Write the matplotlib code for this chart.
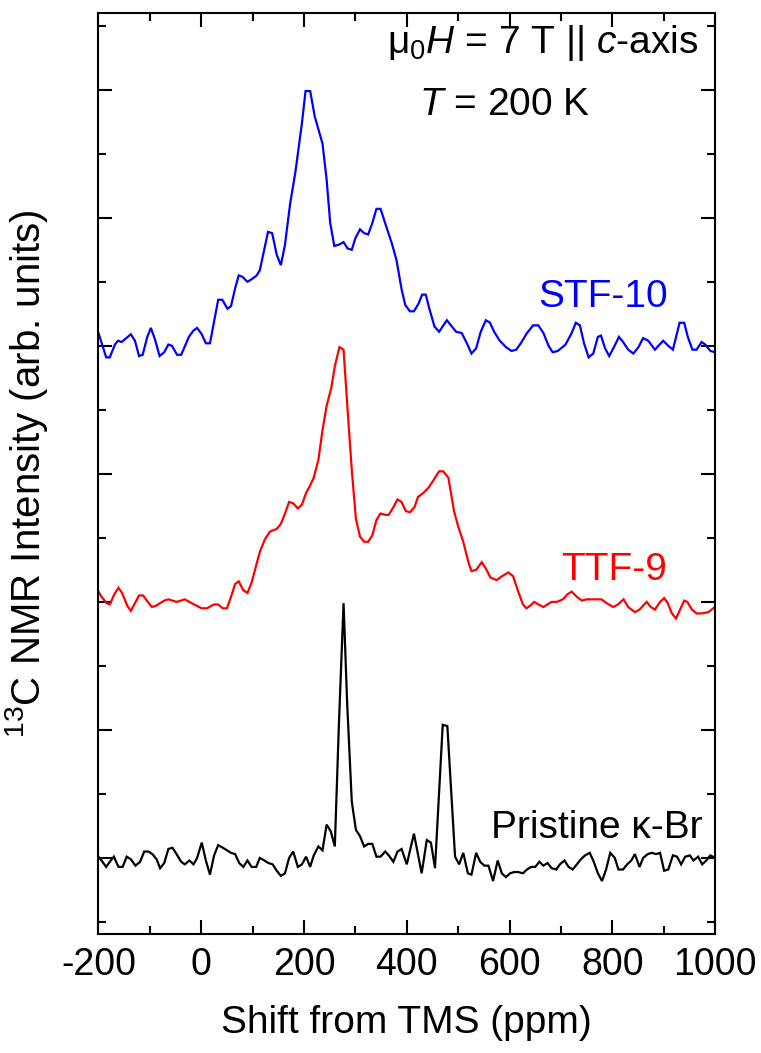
import matplotlib
matplotlib.use("Agg")
import matplotlib.pyplot as plt
from matplotlib.ticker import MultipleLocator

plt.rcParams["font.family"] = "Liberation Sans"
plt.rcParams["mathtext.fontset"] = "custom"
plt.rcParams["mathtext.rm"] = "Liberation Sans"
plt.rcParams["mathtext.it"] = "Liberation Sans:italic"
plt.rcParams["mathtext.bf"] = "Liberation Sans:bold"
plt.rcParams["axes.unicode_minus"] = False

# 13C NMR spectra (shift in ppm, offset intensity in arb. units)
stf10 = [(-200, 4.10), (-185, 3.91), (-178, 3.91), (-168, 4.01), (-162, 4.04), (-155, 4.03),
         (-137, 4.09), (-129, 4.04), (-121, 3.92), (-114, 3.93), (-105, 4.07), (-98, 4.14),
         (-90, 4.05), (-81, 3.92), (-72, 3.95), (-64, 4.01), (-57, 4.00), (-47, 3.93),
         (-39, 3.93), (-24, 4.07), (-15, 4.12), (-8, 4.14), (1, 4.09), (9, 4.02), (17, 4.02),
         (33, 4.36), (41, 4.36), (51, 4.29), (58, 4.31), (66, 4.45), (73, 4.55), (80, 4.54),
         (90, 4.50), (98, 4.52), (108, 4.55), (114, 4.59), (130, 4.89), (138, 4.88),
         (147, 4.71), (155, 4.63), (163, 4.79), (173, 5.11), (183, 5.35), (190, 5.56),
         (196, 5.74), (203, 5.99), (212, 5.99), (221, 5.79), (236, 5.58), (244, 5.30),
         (251, 4.96), (259, 4.78), (268, 4.79), (277, 4.81), (285, 4.76), (293, 4.75),
         (300, 4.84), (309, 4.91), (317, 4.88), (325, 4.87), (333, 4.96), (341, 5.07),
         (349, 5.07), (357, 4.97), (371, 4.80), (380, 4.67), (390, 4.44), (397, 4.32),
         (406, 4.27), (414, 4.27), (423, 4.33), (430, 4.40), (437, 4.40), (444, 4.29),
         (454, 4.15), (463, 4.11), (478, 4.20), (488, 4.15), (496, 4.11), (507, 4.10),
         (517, 4.02), (526, 3.94), (535, 3.98), (544, 4.11), (554, 4.20), (562, 4.18),
         (570, 4.11), (581, 4.04), (593, 3.99), (604, 3.96), (613, 3.97), (622, 4.02),
         (634, 4.10), (646, 4.16), (656, 4.16), (666, 4.10), (676, 4.00), (684, 3.95),
         (694, 3.96), (709, 4.01), (721, 4.10), (729, 4.18), (737, 4.16), (745, 4.02),
         (754, 3.91), (763, 3.94), (772, 4.07), (778, 4.08), (786, 3.98), (794, 3.92),
         (802, 3.98), (813, 4.07), (821, 4.03), (831, 3.97), (841, 3.94), (851, 3.99),
         (860, 4.06), (870, 4.04), (883, 3.97), (899, 4.04), (909, 4.00), (918, 3.97),
         (931, 4.18), (940, 4.18), (947, 4.07), (956, 3.97), (964, 3.97), (974, 4.03),
         (981, 4.01), (991, 3.96), (1000, 3.95)]

ttf9 = [(-200, 2.08), (-194, 2.04), (-184, 1.99), (-178, 1.98), (-169, 2.06), (-161, 2.11),
        (-154, 2.07), (-144, 1.97), (-137, 1.93), (-129, 1.99), (-121, 2.05), (-113, 2.05),
        (-104, 2.00), (-96, 1.96), (-88, 1.97), (-72, 2.01), (-64, 2.02), (-48, 2.00),
        (-32, 2.02), (-14, 1.98), (1, 1.95), (11, 1.95), (25, 1.98), (33, 1.98), (42, 1.95),
        (50, 1.95), (58, 2.04), (66, 2.14), (73, 2.16), (82, 2.09), (90, 2.07), (98, 2.15),
        (106, 2.27), (114, 2.39), (124, 2.49), (134, 2.55), (147, 2.57), (155, 2.61),
        (163, 2.69), (171, 2.78), (179, 2.77), (188, 2.73), (196, 2.76), (204, 2.85),
        (212, 2.91), (219, 2.97), (228, 3.11), (236, 3.34), (244, 3.53), (253, 3.67),
        (260, 3.84), (269, 3.99), (277, 3.97), (284, 3.55), (293, 3.03), (301, 2.65),
        (309, 2.51), (317, 2.47), (325, 2.47), (333, 2.52), (341, 2.64), (349, 2.69),
        (358, 2.68), (365, 2.68), (374, 2.74), (382, 2.80), (390, 2.78), (398, 2.71),
        (406, 2.70), (415, 2.74), (422, 2.82), (432, 2.85), (442, 2.89), (452, 2.95),
        (463, 3.02), (471, 3.02), (481, 2.97), (492, 2.71), (500, 2.59), (510, 2.47),
        (520, 2.31), (526, 2.24), (535, 2.25), (546, 2.31), (554, 2.26), (563, 2.19),
        (575, 2.17), (585, 2.20), (598, 2.23), (607, 2.20), (617, 2.08), (626, 1.98),
        (633, 1.95), (640, 1.97), (648, 2.00), (656, 1.98), (666, 1.96), (674, 1.98),
        (682, 2.00), (692, 2.00), (704, 2.02), (713, 2.06), (721, 2.08), (731, 2.04),
        (741, 2.01), (750, 2.02), (759, 2.02), (770, 2.02), (779, 2.02), (789, 1.99),
        (802, 1.96), (811, 1.98), (822, 2.02), (831, 1.96), (844, 1.92), (853, 1.94),
        (867, 2.00), (875, 1.96), (883, 1.94), (893, 2.00), (901, 2.03), (908, 1.99),
        (916, 1.91), (924, 1.87), (932, 1.94), (940, 2.01), (946, 2.00), (955, 1.94),
        (964, 1.91), (974, 1.91), (987, 1.92), (1000, 1.96)]

pristine = [(-200, 0.01), (-194, -0.02), (-185, -0.07), (-178, -0.03), (-170, 0.01),
            (-161, -0.07), (-153, -0.07), (-145, 0.01), (-137, -0.01), (-128, -0.06),
            (-119, -0.03), (-111, 0.05), (-103, 0.05), (-95, 0.03), (-87, -0.01), (-80, -0.08),
            (-72, -0.04), (-64, 0.07), (-56, 0.08), (-48, 0.03), (-39, -0.03), (-32, -0.05),
            (-23, -0.02), (-15, -0.05), (-8, 0.00), (1, 0.12), (9, -0.02), (17, -0.13),
            (25, 0.02), (33, 0.10), (42, 0.08), (50, 0.06), (58, 0.04), (66, 0.03), (74, -0.04),
            (82, -0.07), (90, -0.02), (98, -0.07), (107, -0.07), (114, 0.00), (123, -0.02),
            (131, -0.04), (139, -0.05), (147, -0.10), (155, -0.14), (163, -0.12), (171, 0.00),
            (179, 0.05), (188, -0.07), (196, -0.05), (204, 0.01), (212, -0.07), (219, 0.02),
            (228, 0.09), (236, 0.06), (244, 0.26), (252, 0.21), (260, 0.09), (268, 1.05),
            (277, 1.99), (284, 1.21), (293, 0.44), (301, 0.22), (309, 0.17), (317, 0.09),
            (325, 0.11), (333, 0.11), (341, 0.01), (349, 0.01), (358, 0.05), (365, 0.02),
            (374, -0.03), (382, 0.05), (390, 0.07), (400, -0.05), (414, 0.19), (429, -0.12),
            (439, 0.14), (447, 0.12), (455, -0.08), (470, 1.04), (479, 1.03), (494, 0.01),
            (502, -0.05), (510, 0.04), (519, -0.12), (526, -0.13), (535, 0.04), (543, -0.03),
            (551, -0.06), (559, -0.06), (568, -0.18), (577, -0.02), (585, -0.12), (593, -0.15),
            (601, -0.12), (609, -0.11), (617, -0.11), (626, -0.12), (634, -0.09), (642, -0.07),
            (650, -0.07), (658, -0.03), (666, -0.06), (674, -0.04), (682, -0.08), (691, -0.09),
            (698, -0.05), (707, -0.02), (715, -0.07), (723, -0.09), (731, -0.05), (739, -0.01),
            (747, 0.02), (756, 0.04), (763, -0.02), (772, -0.12), (780, -0.18), (788, -0.09),
            (796, 0.04), (805, 0.00), (812, -0.09), (821, -0.09), (829, -0.05), (837, -0.02),
            (844, 0.03), (853, -0.07), (860, 0.00), (869, 0.03), (877, 0.04), (885, 0.03),
            (893, 0.04), (901, -0.10), (909, -0.09), (918, 0.02), (926, 0.01), (934, -0.05),
            (942, 0.01), (951, 0.02), (958, -0.02), (967, 0.01), (975, -0.05), (983, -0.02),
            (991, 0.02), (1000, 0.00)]

series_names = ["STF-10", "TTF-9", "Pristine \u03ba-Br"]
series_colors = ["#0000ff", "#ff0000", "#000000"]
series_data = [stf10, ttf9, pristine]
# label anchor (right edge x in ppm, baseline y) for each curve
label_pos = [(908, 4.30), (907, 2.17), (975, 0.156)]

fig = plt.figure(figsize=(7.61, 10.53), dpi=100)
ax = fig.add_axes([0.1294, 0.1130, 0.8102, 0.8747])

for data, name, color, (lx, ly) in zip(series_data, series_names, series_colors, label_pos):
    xs, ys = zip(*data)
    ax.plot(xs, ys, color=color, lw=1.6, solid_joinstyle="miter")
    ax.text(lx, ly, name, color=color, fontsize=28, ha="right", va="baseline")

ax.text(967, 6.29, r"$\mathrm{\mu_0}H$ = 7 T || $c$-axis", fontsize=28,
        ha="right", va="baseline")
ax.text(591, 5.80, r"$T$ = 200 K", fontsize=28, ha="center", va="baseline")

ax.set_xlim(-200, 1000)
ax.set_ylim(-0.594, 6.6)
ax.xaxis.set_major_locator(MultipleLocator(200))
ax.xaxis.set_minor_locator(MultipleLocator(100))
ax.yaxis.set_major_locator(MultipleLocator(1))
ax.yaxis.set_minor_locator(MultipleLocator(0.5))
ax.tick_params(which="both", direction="in", top=True, right=True, width=1.5,
               labelleft=False)
ax.tick_params(which="major", length=10)
ax.tick_params(which="minor", length=5.5)
ax.tick_params(axis="x", labelsize=27, pad=9)
for sp in ax.spines.values():
    sp.set_linewidth(1.5)

ax.set_xlabel("Shift from TMS (ppm)", fontsize=28, labelpad=16)
ax.set_ylabel(r"$^{13}$C NMR Intensity (arb. units)", fontsize=29)
ax.yaxis.set_label_coords(-0.079, 0.5)

fig.savefig("out.png", dpi=100)
